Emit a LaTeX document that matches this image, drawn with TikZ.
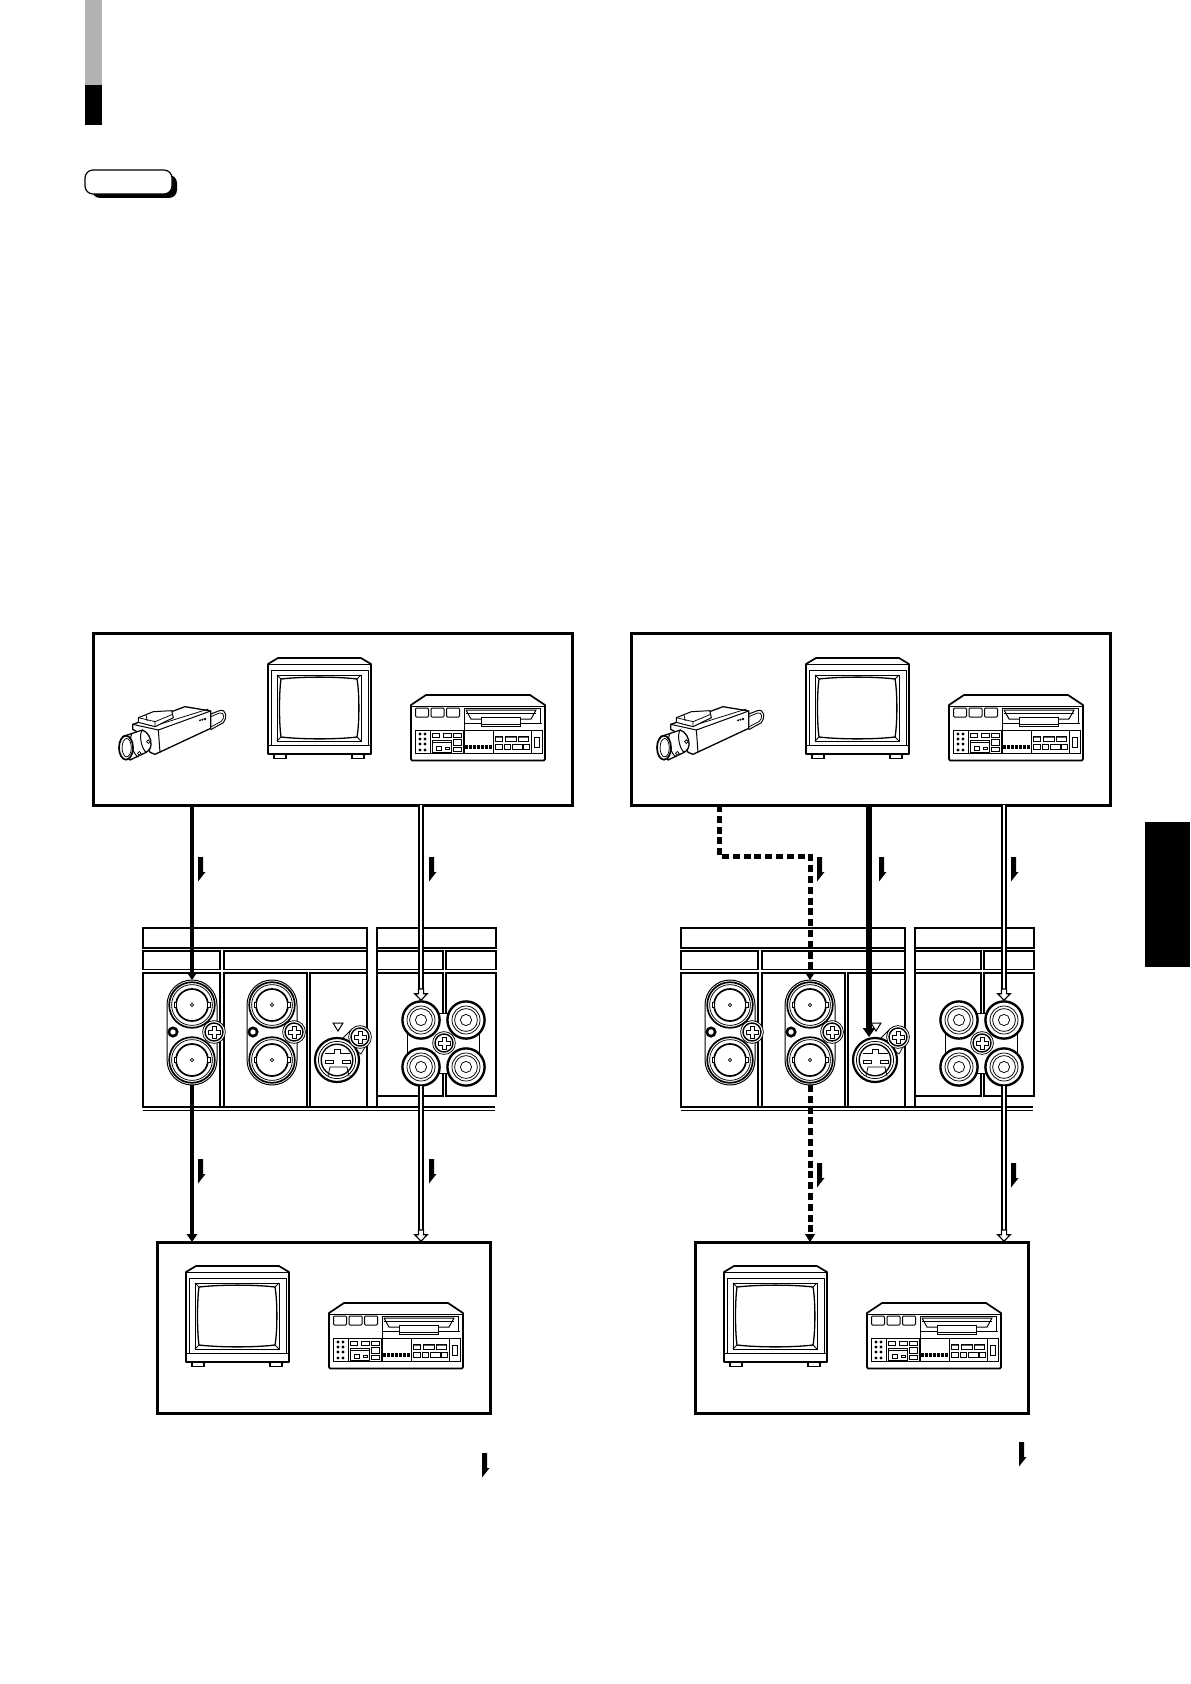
\documentclass[tikz,border=0pt]{standalone}
\usepackage{fontspec}
\usetikzlibrary{arrows.meta}
\tikzset{
  lnZ/.style={line width=.38pt},
  lnA/.style={line width=.5pt},
  lnB/.style={line width=.65pt},
  lnC/.style={line width=.85pt},
  lnT/.style={line width=.8pt},
  frameBox/.style={draw,rectangle,line width=1.5pt,outer sep=0pt,fill=white,inner sep=0pt},
  ringNode/.style={circle,inner sep=0pt,outer sep=0pt,minimum size=#1},
  thickConn/.style={line width=2.3pt,-{Stealth[length=4pt,width=5.2pt,inset=0pt]}},
  thickerConn/.style={line width=2.8pt,-{Stealth[length=4.5pt,width=6pt,inset=0pt]}},
  dashConn/.style={line width=2.5pt,dash pattern=on 3.5pt off 1.9pt,line cap=butt},
  dblConn/.style={draw=black,double=white,double distance=1pt,line width=.9pt},
  barbTip/.style={fill=black,draw=none},
  tipHead/.style={line width=.6pt,draw=black,fill=white,line join=miter},
  solidHead/.style={fill=black,draw=none}
}
\newcommand{\barbmark}[2]{%
  \fill[barbTip] (#1,#2) -- ++(5,0) -- ++(0,15) -- ++(2.5,0) -- ++(-7.5,9.5) -- cycle;}
\newcommand{\whitetip}[1]{%
  \draw[tipHead] ([xshift=-3.1pt,yshift=3.6pt]#1) -- ([xshift=-1.3pt,yshift=3.6pt]#1) -- ([xshift=-1.3pt,yshift=6pt]#1) -- ([xshift=1.3pt,yshift=6pt]#1) -- ([xshift=1.3pt,yshift=3.6pt]#1) -- ([xshift=3.1pt,yshift=3.6pt]#1) -- ([yshift=.4pt]#1) -- cycle;
}
\newcommand{\blacktip}[1]{%
  \fill[solidHead] ([xshift=-2.6pt,yshift=4pt]#1) -- ([xshift=2.6pt,yshift=4pt]#1) -- (#1) -- cycle;
}
\newcommand{\monitorart}[2]{%
\begin{scope}[shift={(#1,#2)}]
  \draw[lnC,line join=round,fill=white] (0,6) -- (10,0) -- (93,0) -- (103,6) -- (103,96) -- (0,96) -- cycle;
  \draw[lnZ] (0,6) -- (103,6);
  \draw[lnA] (3,12) rectangle (100,87);
  \draw[lnZ] (0,87) -- (103,87);
  \draw[lnA] (9,17) rectangle (93,83);
  \draw[lnB] (13,21) .. controls (35,18.5) and (68,18.5) .. (89,21) .. controls (91.5,35) and (91.5,65) .. (89,79) .. controls (68,81.5) and (35,81.5) .. (13,79) .. controls (11,65) and (11,35) .. (13,21) -- cycle;
  \draw[lnZ] (9,17) -- (13,21) (93,17) -- (89,21) (9,83) -- (13,79) (93,83) -- (89,79);
  \draw[lnB] (6,96) rectangle (18,100.5) (84,96) rectangle (96,100.5);
\end{scope}}
\newcommand{\recorderart}[2]{%
\begin{scope}[shift={(#1,#2)}]
  \draw[lnC,line join=round,fill=white] (0,10) -- (15,0) -- (119,0) -- (134,10) -- (134,64) -- (133,65.5) -- (1,65.5) -- (0,64) -- cycle;
  \draw[lnZ] (0,11) -- (134,11);
  \draw[lnA,rounded corners=.5pt] (4.5,13) rectangle (17.5,22) (20,13) rectangle (33,22) (35.5,13) rectangle (48.5,22);
  \draw[lnZ] (53,13) -- (129,13) (53,13) -- (53,58) (129,13) -- (129,28) (53,28.5) -- (131,28.5);
  \draw[lnA] (55,15) -- (125,15) -- (120,24) -- (109,24) (55,15) -- (60,24) -- (70,24);
  \draw[lnZ] (55,18) -- (125,18);
  \draw[lnA,fill=white] (70,22.5) rectangle (109,31.5);
  \draw[lnZ] (70,29.5) -- (109,29.5);
  \draw[lnZ] (4,35) -- (131,35) (4,35) -- (4,58) -- (131,58) -- (131,35);
  \draw[lnZ] (19,35) -- (19,58);
  \draw[lnA] (52,35) -- (52,58) (82,35) -- (82,58) (120,35) -- (120,58);
  \foreach \yy in {39,44,49,55} {\fill (9,\yy) circle (.8pt); \fill (14,\yy) circle (.8pt);}
  \draw[lnZ] (21,38) rectangle (28,42) (32,38) rectangle (40,42) (42,38) rectangle (50,42);
  \draw[lnZ] (21,45) rectangle (40,57) (21,47.5) -- (40,47.5) (25,51) rectangle (30,55) (34,52) rectangle (38,54.5);
  \draw[lnZ] (42,44) rectangle (50,50) (42,52) rectangle (50,56);
  \foreach \xx in {54,58,62,66,70,74,78} {\fill (\xx,50) rectangle ++(3,4);}
  \draw[lnZ] (84,41) rectangle (91,46) (94,41) rectangle (105,46) (107,41) rectangle (117,46);
  \fill (84,41) rectangle (91,42.5) (94,41) rectangle (105,42.5) (107,41) rectangle (117,42.5);
  \draw[lnZ] (84,49) rectangle (91,54) (93,49) rectangle (99,54) (101,49) rectangle (111,54) (112,49) rectangle (118,54);
  \draw[lnA] (123,42) rectangle (128,52);
\end{scope}}
\newcommand{\cameraart}[2]{%
\begin{scope}[shift={(#1,#2)},x=.1667pt,y=-.1667pt]
  % cable
  \draw[lnA] (300,58) -- (328,47) .. controls (350,40) and (352,70) .. (340,83) -- (302,104);
  \draw[lnZ] (300,66) -- (328,54) .. controls (344,50) and (344,70) .. (334,79) -- (302,96);
  % body
  \draw[lnB,line join=round,fill=white] (68,88) -- (190,48) -- (225,35) -- (302,48) -- (302,100) -- (135,178) -- (120,172) -- (100,120) -- (68,103) -- cycle;
  \draw[lnA] (68,88) -- (145,105) -- (302,48);
  \draw[lnA] (145,105) -- (150,173);
  \draw[lnZ] (135,92) -- (295,42);
  % mount
  \draw[lnA,fill=white,line join=round] (85,68) -- (130,50) -- (185,47) -- (190,68) -- (135,95) -- (85,82) -- cycle;
  \draw[lnZ] (85,68) -- (135,80) -- (135,95) (135,80) -- (188,58) (108,60) -- (112,78);
  % logo
  \fill (270,76) circle (.55pt) (277,74) circle (.55pt) (285,72) circle (.65pt);
  % lens
  \draw[lnB,fill=white,line join=round] (37,125) -- (97,105) .. controls (112,110) and (125,130) .. (123,150) .. controls (122,165) and (110,172) .. (100,176) -- (60,195) -- cycle;
  \draw[lnA] (97,105) .. controls (85,118) and (95,165) .. (110,173);
  \draw[lnA] (65,117) .. controls (55,135) and (70,180) .. (85,186);
  \fill[white] (115,140) circle (1pt) (88,175) circle (1pt);
  \draw[lnZ] (115,140) circle (.9pt) (88,175) circle (.9pt);
  \draw[lnC,fill=white] (48,158) ellipse [x radius=3.5pt,y radius=6pt];
  \draw[lnZ] (50,158) ellipse [x radius=2.3pt,y radius=4.6pt];
\end{scope}}
\newcommand{\screwart}[2]{%
\begin{scope}[shift={(#1,#2)}]
  \draw[lnZ,fill=white] (0,0) circle (5.7pt);
  \draw[line width=.7pt] (0,0) circle (4.5pt);
  \draw[lnZ,fill=white,line join=miter] (-2,-6) -- (2,-6) -- (2,-2) -- (6,-2) -- (6,2) -- (2,2) -- (2,6) -- (-2,6) -- (-2,2) -- (-6,2) -- (-6,-2) -- (-2,-2) -- cycle;
\end{scope}}
\newcommand{\bncring}[2]{%
\begin{scope}[shift={(#1,#2)}]
  \draw[line width=.85pt,fill=white] (0,0) circle (11.4pt);
  \draw[lnZ] (0,0) circle (10.2pt);
  \draw[line width=.85pt,fill=white] (0,0) circle (8pt);
  \draw[lnZ,fill=white] (-18,-2.5) rectangle (-15.5,2.5) (15.5,-2.5) rectangle (18,2.5);
  \draw[lnZ] (0,0) circle (.8pt);
\end{scope}}
\newcommand{\bncpair}[2]{%
  \draw[lnA,fill=white] (#1-25,1005) arc[start angle=180,end angle=0,radius=12.5pt] -- (#1+25,1060) arc[start angle=0,end angle=-180,radius=12.5pt] -- cycle;
  \bncring{#1}{1005}\bncring{#1}{1060}
  \draw[line width=1.3pt,fill=white] (#1-19,1032) circle (2.1pt);
  \screwart{#1+22}{1032}
  \node[ringNode=25pt] (#2a) at (#1,1005) {};
  \node[ringNode=25pt] (#2b) at (#1,1060) {};
}
\newcommand{\rcaring}[2]{%
\begin{scope}[shift={(#1,#2)}]
  \draw[line width=1.2pt,fill=white] (0,0) circle (9.3pt);
  \draw[lnZ] (0,0) circle (7pt);
  \draw[lnZ] (0,0) circle (5.7pt);
  \draw[lnZ] (0,0) circle (2.8pt);
\end{scope}}
\newcommand{\panelart}[2]{%
\begin{scope}[shift={(#1,0)}]
  % table
  \draw[lnT] (143,928) rectangle (367,948) (377,928) rectangle (496,948);
  \draw[lnT] (143,951) rectangle (220,969.5) (224,951) rectangle (367,969.5) (377,951) rectangle (443,969.5) (446,951) rectangle (496,969.5);
  \draw[lnT] (143,973) rectangle (220,1107) (224,973) rectangle (307,1107) (310,973) rectangle (367,1107);
  \draw[lnT] (377,973) rectangle (443,1096) (446,973) rectangle (496,1096);
  \draw[lnT] (367,928) -- (367,1107) (377,928) -- (377,1107);
  \draw[line width=1pt] (143,1107) -- (495,1107);
  \draw[lnT] (143,1110.5) -- (495,1110.5);
  % BNC
  \bncpair{192}{#2b}
  \bncpair{272}{#2c}
  % S terminal
  \draw[lnA,fill=white] (338-5,1023) -- (338+5,1023) -- (338,1031) -- cycle;
  \draw[lnZ,fill=white] (341,1040) -- (352,1029) -- (369,1040) -- (361,1054) -- cycle;
  \node[ringNode=23pt] (#2s) at (337,1060) {};
  \begin{scope}[shift={(337,1060)}]
    \draw[line width=1.1pt,fill=white] (0,0) circle (11pt);
    \draw[lnZ] (0,0) circle (9.3pt);
    \draw[line width=.7pt] (0,0) circle (7.9pt);
    \draw[lnZ,line join=round] (-12,-7) -- (-3,-7) -- (-3,-11) (3,-11) -- (3,-7) -- (13,-7);
    \draw[lnZ] (-3,-11) -- (3,-11);
    \draw[lnZ] (-12,0) rectangle (-4,3) (5,0) rectangle (13,3);
    \draw[lnZ] (-9,16) -- (-7,7) -- (10,7) -- (12,16);
  \end{scope}
  \screwart{360}{1037}
  % RCA
  \draw[lnA,fill=white] (407,1013) rectangle (479,1073);
  \rcaring{421}{1020}\rcaring{466}{1020}\rcaring{421}{1067}\rcaring{466}{1067}
  \screwart{444}{1043}
  \node[ringNode=19pt] (#2ra) at (421,1020) {};
  \node[ringNode=19pt] (#2rb) at (466,1020) {};
  \node[ringNode=19pt] (#2rc) at (421,1067) {};
  \node[ringNode=19pt] (#2rd) at (466,1067) {};
\end{scope}}
\begin{document}
\begin{tikzpicture}[x=.5pt,y=-.5pt]
\useasboundingbox (0,0) rectangle (1190,1684);
% page furniture
\fill[black!30] (85,0) rectangle (102,85);
\fill[black] (85,85) rectangle (102,125);
\fill[black,rounded corners=4pt] (92,175) rectangle (177,198);
\draw[line width=.6pt,fill=white,rounded corners=4pt] (85,170) rectangle (172,194);
\fill[black] (1145,822) rectangle (1190,967);
% frames
\node[frameBox,minimum width=239.5pt,minimum height=86pt] (topL) at (332.7,719) {};
\node[frameBox,minimum width=239.5pt,minimum height=86pt] (topR) at (870.7,719) {};
\node[frameBox,minimum width=166.5pt,minimum height=85.5pt] (botL) at (323.7,1327.5) {};
\node[frameBox,minimum width=166.5pt,minimum height=85.5pt] (botR) at (861.7,1327.5) {};
% equipment
\cameraart{110}{695}\cameraart{648}{695}
\monitorart{268}{658}\monitorart{806}{658}
\recorderart{411}{695}\recorderart{949}{695}
\monitorart{186}{1266}\monitorart{724}{1266}
\recorderart{329}{1303}\recorderart{867}{1303}
% panels
\panelart{0}{L}
\panelart{538}{R}
% connectors left
\draw[thickConn] (topL.south -| Lba.north) -- (Lba.north);
\draw[thickConn] (Lbb.south) -- (botL.north -| Lbb.south);
\draw[dblConn] (topL.south -| Lra.north) -- ([yshift=3.6pt]Lra.north);
\whitetip{Lra.north}
\coordinate (tipLd) at (botL.north -| Lrc.south);
\draw[dblConn] (Lrc.south) -- ([yshift=3.6pt]tipLd);
\whitetip{tipLd}
% connectors right
\coordinate (knee1) at (topR.south -| 719,0);
\coordinate (knee2) at (719,856);
\coordinate (knee3) at (810,856);
\draw[dashConn,shorten >=3pt] (knee1) -- (knee2) -- (knee3) -- (Rca.north);
\blacktip{Rca.north}
\coordinate (tipRb) at (botR.north -| Rcb.south);
\draw[dashConn,shorten >=3pt] (Rcb.south) -- (tipRb);
\blacktip{tipRb}
\coordinate (tipRs) at (869,1037);
\draw[thickerConn] (topR.south -| tipRs) -- (tipRs);
\draw[dblConn] (topR.south -| Rrb.north) -- ([yshift=3.6pt]Rrb.north);
\whitetip{Rrb.north}
\coordinate (tipRd) at (botR.north -| Rrd.south);
\draw[dblConn] (Rrd.south) -- ([yshift=3.6pt]tipRd);
\whitetip{tipRd}
% half-arrow marks
\barbmark{198}{857}\barbmark{429}{857}
\barbmark{198}{1159}\barbmark{429}{1159}
\barbmark{817}{857}\barbmark{879}{857}\barbmark{1011}{857}
\barbmark{817}{1163}\barbmark{1011}{1163}
\barbmark{482}{1453}\barbmark{1019}{1442}
\end{tikzpicture}
\end{document}
